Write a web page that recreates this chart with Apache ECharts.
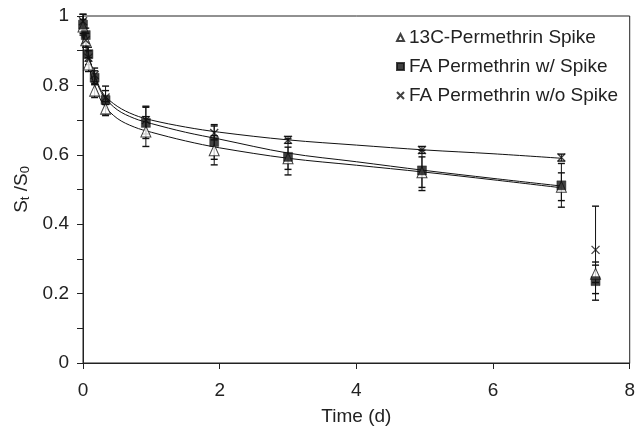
<!DOCTYPE html>
<html>
<head>
<meta charset="utf-8">
<script src="https://cdn.jsdelivr.net/npm/echarts@6/dist/echarts.min.js"></script>
<style>html,body{margin:0;padding:0;background:#fff}#c{width:638px;height:431px}</style>
</head>
<body>
<div id="c"></div>
<script>
// ---- data ----
const times = [0, 0.04, 0.08, 0.17, 0.33, 0.92, 1.92, 3.0, 4.96, 7.0, 7.5];
const spike13C   = [0.97, 0.93, 0.86, 0.785, 0.733, 0.667, 0.613, 0.59, 0.55, 0.508, 0.257];
const faWithSpike = [0.975, 0.945, 0.89, 0.822, 0.758, 0.692, 0.637, 0.594, 0.555, 0.512, 0.236];
const faNoSpike  = [0.985, 0.93, 0.88, 0.83, 0.765, 0.70, 0.663, 0.643, 0.614, 0.592, 0.326];
const err13C   = [0.02, 0.02, 0.02, 0.02, 0.02, 0.043, 0.042, 0.032, 0.044, 0.04, 0.025];
const errWith  = [0.03, 0.02, 0.02, 0.02, 0.04, 0.045, 0.05, 0.052, 0.058, 0.063, 0.055];
const errNo    = [0.02, 0.02, 0.02, 0.02, 0.02, 0.04, 0.02, 0.01, 0.01, 0.01, 0.126];
// fitted curves
const fitTimes = [0, 0.1, 0.2, 0.3, 0.5, 0.75, 1, 1.5, 2, 3, 4, 5, 6, 7];
const fit13C   = [0.97, 0.845, 0.785, 0.745, 0.705, 0.68, 0.665, 0.64, 0.62, 0.59, 0.57, 0.55, 0.528, 0.505];
const fitWith  = [0.975, 0.87, 0.81, 0.77, 0.73, 0.705, 0.69, 0.665, 0.645, 0.605, 0.58, 0.555, 0.532, 0.51];
const fitNo    = [0.98, 0.875, 0.815, 0.775, 0.74, 0.715, 0.70, 0.68, 0.665, 0.643, 0.628, 0.614, 0.603, 0.59];
const xTicks = [0, 2, 4, 6, 8];
const yTicks = [0, 0.2, 0.4, 0.6, 0.8, 1];
const names = ['13C-Permethrin Spike', 'FA Permethrin w/ Spike', 'FA Permethrin w/o Spike'];

const FONT = 'Liberation Sans, Arial, Helvetica, sans-serif';
const INK = '#222';
const CROSS = 'path://M0,0L10,10M0,10L10,0';

function pts(xs, ys) { return xs.map((x, i) => [x, ys[i]]); }
function errData(ys, es) { return times.map((t, i) => [t, ys[i] - es[i], ys[i] + es[i]]); }

function errSeries(ys, es) {
  return {
    type: 'custom', silent: true, clip: false, z: 2,
    data: errData(ys, es),
    renderItem: function (params, api) {
      const x = api.value(0);
      const lo = api.coord([x, api.value(1)]);
      const hi = api.coord([x, api.value(2)]);
      const w = 3.5;
      const st = { stroke: '#111', lineWidth: 1 };
      const cap = { stroke: '#111', lineWidth: 1.4 };
      return {
        type: 'group',
        children: [
          { type: 'line', shape: { x1: lo[0], y1: lo[1], x2: hi[0], y2: hi[1] }, style: st },
          { type: 'line', shape: { x1: lo[0] - w, y1: lo[1], x2: lo[0] + w, y2: lo[1] }, style: cap },
          { type: 'line', shape: { x1: hi[0] - w, y1: hi[1], x2: hi[0] + w, y2: hi[1] }, style: cap }
        ]
      };
    }
  };
}
function fitSeries(xs, ys) {
  return {
    type: 'line', data: pts(xs, ys), smooth: 0.35, showSymbol: false, silent: true, z: 1,
    lineStyle: { color: '#111', width: 1 }
  };
}

const chart = echarts.init(document.getElementById('c'), null, { renderer: 'canvas' });
chart.setOption({
  animation: false,
  backgroundColor: '#fff',
  grid: { left: 83, right: 6, top: 16, bottom: 65, show: true, borderColor: INK, borderWidth: 1, backgroundColor: 'transparent' },
  legend: {
    orient: 'vertical', left: 391, top: 23, itemWidth: 7, itemHeight: 7, itemGap: 10,
    data: names,
    textStyle: { fontFamily: FONT, fontSize: 19, color: INK }
  },
  xAxis: {
    type: 'value', min: 0, max: 8, interval: 2,
    name: 'Time (d)', nameLocation: 'middle', nameGap: 44,
    nameTextStyle: { fontFamily: FONT, fontSize: 19, color: INK },
    axisLine: { lineStyle: { color: INK, width: 1 } },
    axisTick: { show: true, length: 6, lineStyle: { color: INK } },
    axisLabel: { margin: 18, fontFamily: FONT, fontSize: 19, color: INK,
      formatter: v => xTicks.indexOf(v) >= 0 ? String(v) : '' },
    splitLine: { show: false }
  },
  yAxis: {
    type: 'value', min: 0, max: 1, interval: 0.2,
    name: '{n|S}{s|t}{n| /S}{s|0}', nameLocation: 'middle', nameGap: 41, nameRotate: 90,
    nameTextStyle: {
      fontFamily: FONT, color: INK,
      rich: {
        n: { fontFamily: FONT, fontSize: 19, color: INK, lineHeight: 24, verticalAlign: 'bottom' },
        s: { fontFamily: FONT, fontSize: 13, color: INK, lineHeight: 10, verticalAlign: 'bottom' }
      }
    },
    axisLine: { show: true, lineStyle: { color: INK, width: 1 } },
    axisTick: { show: true, length: 6, lineStyle: { color: INK } },
    minorTick: { show: true, splitNumber: 2, length: 6, lineStyle: { color: INK } },
    axisLabel: { margin: 14, fontFamily: FONT, fontSize: 19, color: INK,
      formatter: v => { const k = yTicks.findIndex(t => Math.abs(t - v) < 1e-9); return k >= 0 ? String(yTicks[k]) : ''; } },
    splitLine: { show: false }
  },
  series: [
    fitSeries(fitTimes, fit13C),
    fitSeries(fitTimes, fitWith),
    fitSeries(fitTimes, fitNo),
    errSeries(spike13C, err13C),
    errSeries(faWithSpike, errWith),
    errSeries(faNoSpike, errNo),
    {
      name: names[0], type: 'scatter', data: pts(times, spike13C), z: 3,
      symbol: 'triangle', symbolSize: [10, 11],
      itemStyle: { color: '#fff', borderColor: '#111', borderWidth: 1 }
    },
    {
      name: names[1], type: 'scatter', data: pts(times, faWithSpike), z: 4,
      symbol: 'rect', symbolSize: 9,
      itemStyle: { color: '#111', borderColor: '#111', borderWidth: 0.5 }
    },
    {
      name: names[2], type: 'scatter', data: pts(times, faNoSpike), z: 5,
      symbol: CROSS, symbolSize: 8,
      itemStyle: { color: '#111', borderColor: '#111', borderWidth: 1.3 }
    }
  ]
});
</script>
</body>
</html>
